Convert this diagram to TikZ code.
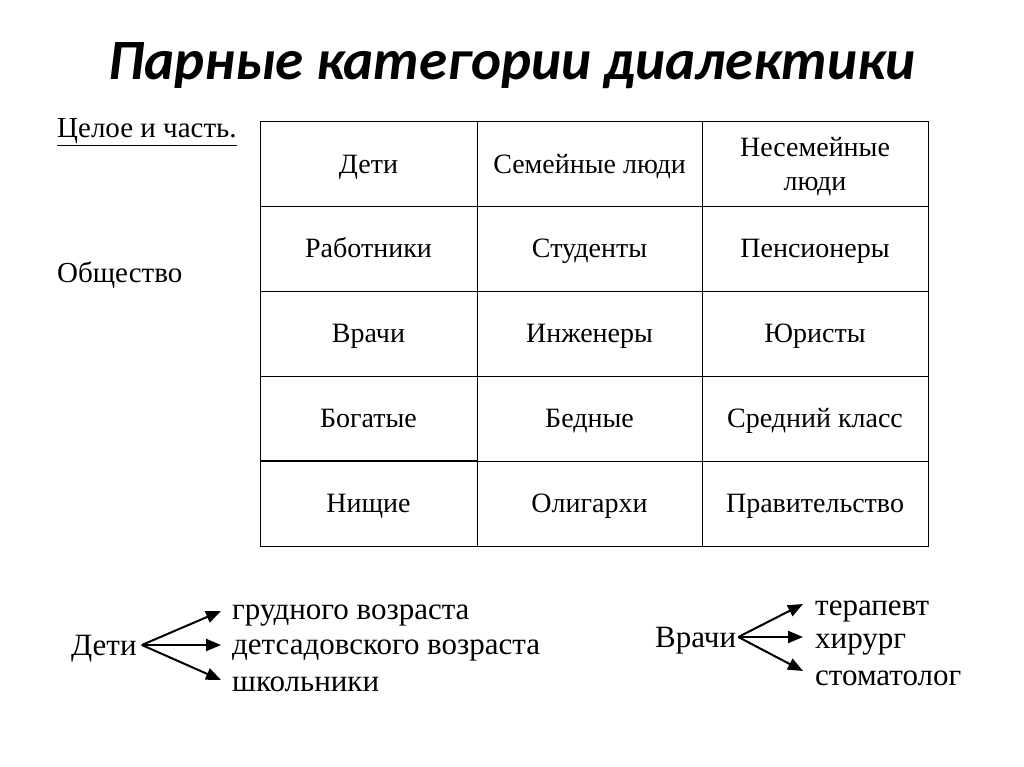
\documentclass[tikz,border=0pt]{standalone}
\usepackage{fontspec}
\setmainfont{Liberation Serif}
\newfontfamily\titlefont{Carlito}
\usetikzlibrary{arrows.meta}
\begin{document}
\begin{tikzpicture}[x=1pt,y=-1pt,
  cell/.style={font=\fontsize{28}{34}\selectfont, align=center, anchor=base, inner sep=0pt},
  lbl/.style={font=\fontsize{29}{31}\selectfont, anchor=base west, inner sep=0pt},
  big/.style={font=\fontsize{31}{33}\selectfont, anchor=base west, inner sep=0pt},
  arr/.style={-{Triangle[length=15pt,width=12pt]}, line width=2pt},
  grid/.style={line width=1pt}]
\useasboundingbox[fill=white] (0,0) rectangle (1024,767);
\node[font=\titlefont\bfseries\itshape\fontsize{57}{60}\selectfont] (title) at (512,66) {Парные категории диалектики};
\node[lbl] (whole) at (57,138) {\underline{Целое и часть.}};
\node[lbl] (soc) at (57,282) {Общество};
% table grid
\draw[grid] (260,122) rectangle (928,546);
\foreach \x in {477,702} \draw[grid] (\x,122) -- (\x,546);
\foreach \y in {207,291,376} \draw[grid] (260,\y) -- (928,\y);
\draw[grid] (477,461) -- (928,461);
\draw[line width=2pt] (260,461) -- (477,461);
% cells
\node[cell] (c11) at (368.5,174) {Дети};
\node[cell] (c12) at (589.5,174) {Семейные люди};
\node[cell] (c13) at (815,191) {Несемейные\\люди};
\node[cell] (c21) at (368.5,258) {Работники};
\node[cell] (c22) at (589.5,258) {Студенты};
\node[cell] (c23) at (815,258) {Пенсионеры};
\node[cell] (c31) at (368.5,342) {Врачи};
\node[cell] (c32) at (589.5,342) {Инженеры};
\node[cell] (c33) at (815,342) {Юристы};
\node[cell] (c41) at (368.5,427) {Богатые};
\node[cell] (c42) at (589.5,427) {Бедные};
\node[cell] (c43) at (815,427) {Средний класс};
\node[cell] (c51) at (368.5,512) {Нищие};
\node[cell] (c52) at (589.5,512) {Олигархи};
\node[cell] (c53) at (815,512) {Правительство};
% bottom left
\node[big] (deti) at (71,655) {Дети};
\node[big] (d1) at (232,619) {грудного возраста};
\node[big] (d2) at (232,654) {детсадовского возраста};
\node[big] (d3) at (232,691) {школьники};
\coordinate (dtip1) at (221,611);
\coordinate (dtip2) at (221,645);
\coordinate (dtip3) at (221,680);
\draw[arr] ([xshift=5pt,yshift=10pt]deti.base east) -- (dtip1);
\draw[arr] ([xshift=5pt,yshift=10pt]deti.base east) -- (dtip2);
\draw[arr] ([xshift=5pt,yshift=10pt]deti.base east) -- (dtip3);
% bottom right
\node[big] (vr) at (655,647) {Врачи};
\node[big] (v1) at (815,615) {терапевт};
\node[big] (v2) at (815,648) {хирург};
\node[big] (v3) at (815,685) {стоматолог};
\coordinate (vtip1) at (803,604);
\coordinate (vtip2) at (803,637);
\coordinate (vtip3) at (803,671);
\draw[arr] ([xshift=2pt,yshift=10pt]vr.base east) -- (vtip1);
\draw[arr] ([xshift=2pt,yshift=10pt]vr.base east) -- (vtip2);
\draw[arr] ([xshift=2pt,yshift=10pt]vr.base east) -- (vtip3);
\end{tikzpicture}
\end{document}
